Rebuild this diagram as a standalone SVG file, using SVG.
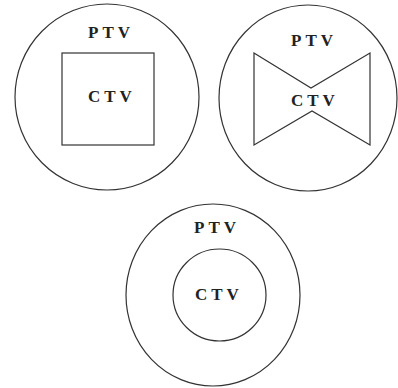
<svg xmlns="http://www.w3.org/2000/svg" width="398" height="388" viewBox="0 0 398 388">
<style>
.s{fill:none;stroke:#333;stroke-width:1.2}
.t{font-family:"Liberation Serif","Times New Roman",serif;font-weight:bold;font-size:17px;letter-spacing:4px;fill:#222}
</style>
<rect width="398" height="388" fill="#fff"/>
<g id="ptv1"><ellipse class="s" cx="107" cy="97" rx="92" ry="93"/><text class="t" x="88" y="38">PTV</text></g>
<g id="ctv1"><rect class="s" x="62" y="53" width="92" height="92"/><text class="t" x="88" y="102">CTV</text></g>
<g id="ptv2"><ellipse class="s" cx="308" cy="98" rx="89" ry="93"/><text class="t" x="291" y="46">PTV</text></g>
<g id="ctv2"><polygon class="s" points="254,53 311,88 370,53 370,145 312,111 254,145"/><text class="t" x="291" y="106">CTV</text></g>
<g id="ptv3"><ellipse class="s" cx="213" cy="295" rx="87" ry="91"/><text class="t" x="194" y="233">PTV</text></g>
<g id="ctv3"><ellipse class="s" cx="219.5" cy="295" rx="46.5" ry="46"/><text class="t" x="195" y="300">CTV</text></g>
<g id="connectors"/>
</svg>
